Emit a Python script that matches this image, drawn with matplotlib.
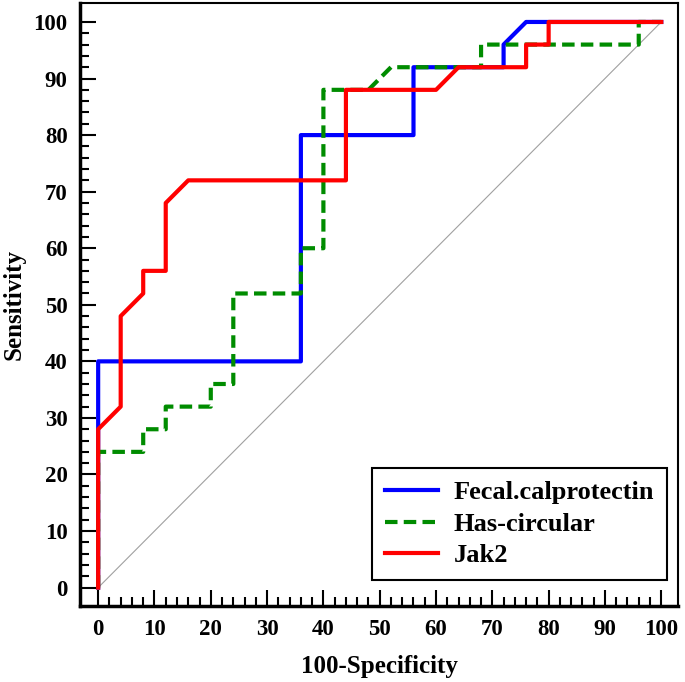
import matplotlib
matplotlib.use("Agg")
import matplotlib.pyplot as plt

plt.rcParams["font.family"] = ["Liberation Serif", "DejaVu Serif"]
plt.rcParams["font.weight"] = "bold"

# ROC curves: x = 100-Specificity, y = Sensitivity
fecal_x = [0, 0, 36, 36, 56, 56, 72, 72, 76, 100]
fecal_y = [0, 40, 40, 80, 80, 92, 92, 96, 100, 100]

has_x = [0, 0, 8, 8, 12, 12, 20, 20, 24, 24, 36, 36, 40, 40, 48, 52, 68, 68, 96, 96, 100]
has_y = [0, 24, 24, 28, 28, 32, 32, 36, 36, 52, 52, 60, 60, 88, 88, 92, 92, 96, 96, 100, 100]

jak_x = [0, 0, 4, 4, 8, 8, 12, 12, 16, 44, 44, 60, 64, 76, 76, 80, 80, 100]
jak_y = [0, 28, 32, 48, 52, 56, 56, 68, 72, 72, 88, 88, 92, 92, 96, 96, 100, 100]

labels = ["Fecal.calprotectin", "Has-circular", "Jak2"]
ticks = list(range(0, 101, 10))

fig = plt.figure(figsize=(6.85, 6.82), dpi=100)
ax = fig.add_axes([0.117, 0.111, 0.873, 0.885])

# reference diagonal
ax.plot([0, 100], [0, 100], color="#a0a0a0", lw=0.8, zorder=1)

ax.plot(fecal_x, fecal_y, color="#0000ff", lw=3, label=labels[0], zorder=2)
ax.plot(has_x, has_y, color="#008c00", lw=3, ls=(0, (3, 1.5)), label=labels[1], zorder=3)
ax.plot(jak_x, jak_y, color="#ff0000", lw=3, label=labels[2], zorder=4)

ax.set_xlim(-3.2, 103)
ax.set_ylim(-3.3, 103.4)
ax.set_xticks(ticks)
ax.set_yticks(ticks)
ax.set_xticks(range(0, 101, 2), minor=True)
ax.set_yticks(range(0, 101, 2), minor=True)
ax.tick_params(which="major", direction="in", length=11.5, width=1.5, labelsize=16.5, pad=9)
ax.tick_params(which="minor", direction="in", length=6.5, width=1.5)
for s in ax.spines.values():
    s.set_linewidth(1.5)
ax.spines["left"].set_linewidth(2.5)
ax.spines["bottom"].set_linewidth(2.5)

ax.set_xlabel("100-Specificity", fontsize=18, fontweight="bold", labelpad=11)
ax.set_ylabel("Sensitivity", fontsize=18, fontweight="bold", labelpad=6)

leg = ax.legend(loc="lower right", bbox_to_anchor=(0.982, 0.043), fontsize=19,
                fancybox=False, framealpha=1, edgecolor="black", borderaxespad=0,
                handlelength=2.0, handletextpad=0.6, borderpad=0.5, labelspacing=0.3)
leg.get_frame().set_linewidth(1.5)

fig.savefig("out.png", dpi=100)
